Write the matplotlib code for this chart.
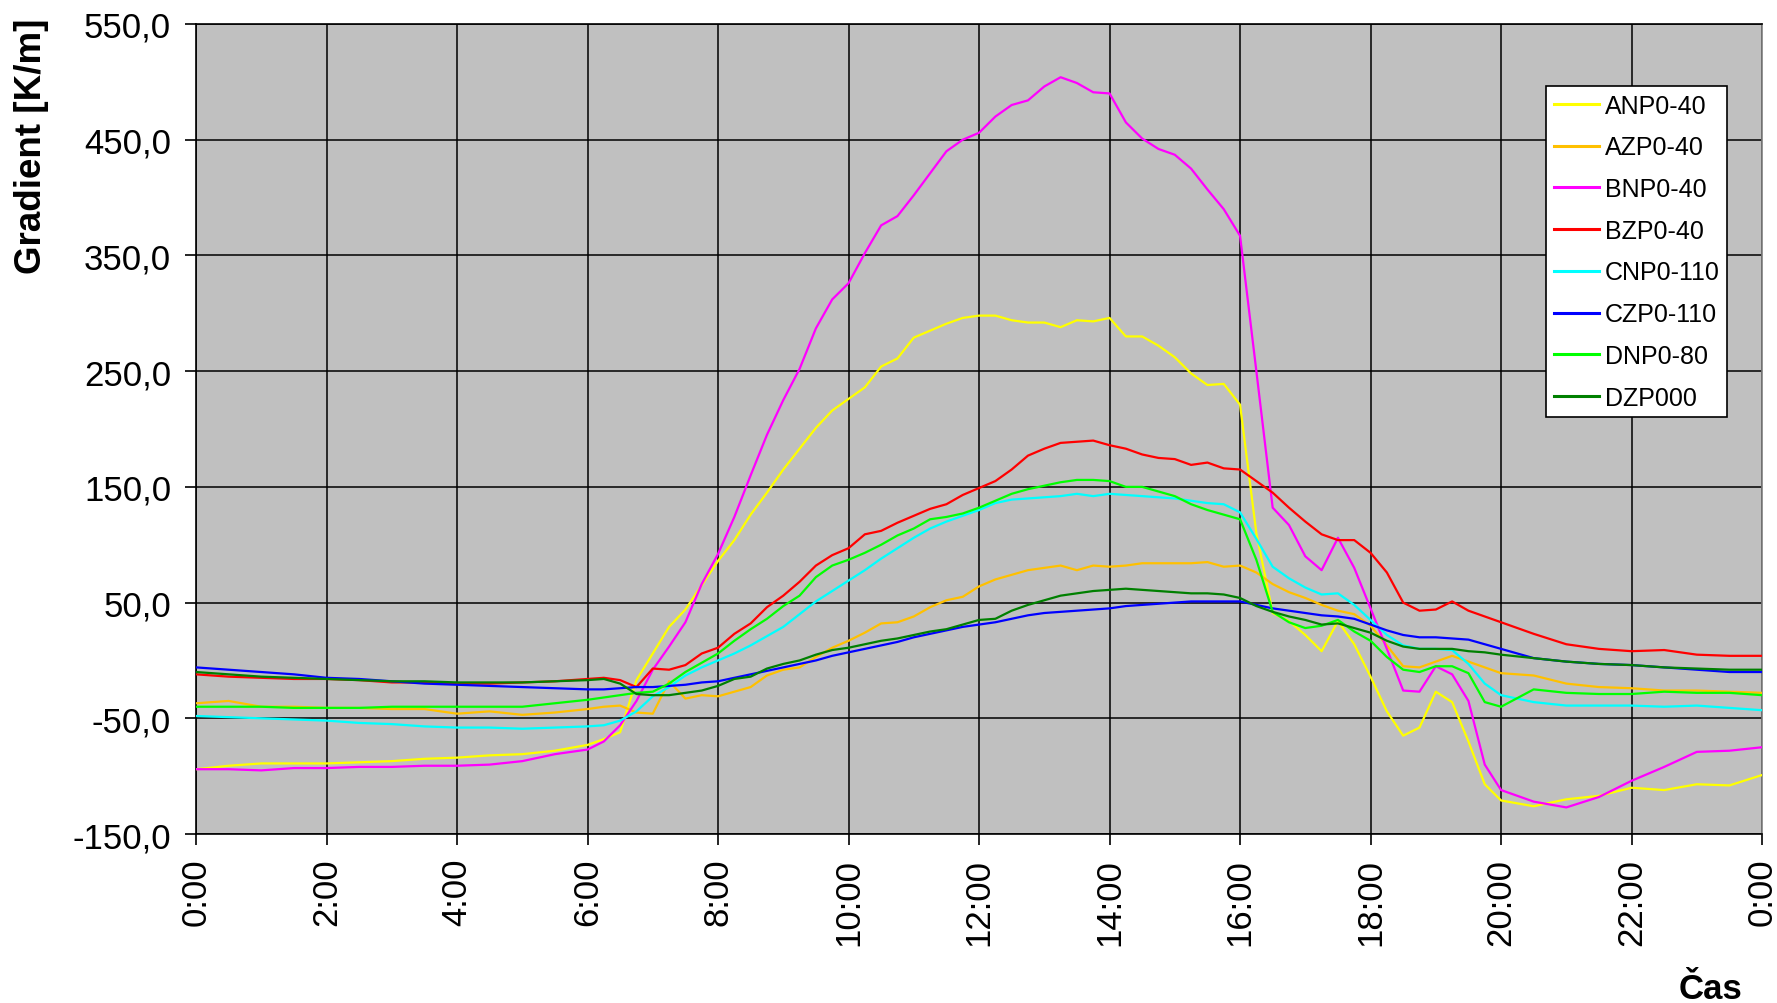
import matplotlib
matplotlib.use("Agg")
import matplotlib.pyplot as plt
import numpy as np

plt.rcParams['font.family'] = ['Liberation Sans', 'DejaVu Sans']

# time of day in hours
hours = [0, 0.5, 1, 1.5, 2, 2.5, 3, 3.5, 4, 4.5, 5, 5.5, 6,
         6.25, 6.5, 6.75, 7, 7.25, 7.5, 7.75, 8, 8.25, 8.5, 8.75, 9, 9.25, 9.5, 9.75,
         10, 10.25, 10.5, 10.75, 11, 11.25, 11.5, 11.75, 12, 12.25, 12.5, 12.75,
         13, 13.25, 13.5, 13.75, 14, 14.25, 14.5, 14.75, 15, 15.25, 15.5, 15.75,
         16, 16.25, 16.5, 16.75, 17, 17.25, 17.5, 17.75, 18, 18.25, 18.5, 18.75,
         19, 19.25, 19.5, 19.75, 20,
         20.5, 21, 21.5, 22, 22.5, 23, 23.5, 24]

anp = [-94, -91, -89, -89, -89, -88, -87, -85, -84, -82, -81, -78, -73,
       -68, -62, -17, 6, 29, 44, 65, 86, 104, 126, 145, 165, 183, 201, 216,
       226, 236, 254, 261, 279, 285, 291, 296, 298, 298, 294, 292,
       292, 288, 294, 293, 296, 280, 280, 272, 262, 248, 238, 239,
       221, 110, 41, 34, 22, 8, 34, 14, -14, -44, -65, -58,
       -27, -36, -70, -107, -121,
       -126, -120, -117, -110, -112, -107, -108, -99]

azp = [-37, -35, -40, -40, -41, -41, -42, -42, -46, -44, -47, -45, -42,
       -40, -39, -45, -46, -18, -33, -30, -31, -27, -23, -13, -8, -6, 3, 11,
       17, 24, 32, 33, 38, 46, 52, 55, 64, 70, 74, 78,
       80, 82, 78, 82, 81, 82, 84, 84, 84, 84, 85, 81,
       82, 76, 66, 59, 54, 48, 43, 40, 30, 13, -5, -6,
       -1, 4, -1, -6, -11,
       -13, -20, -23, -24, -26, -26, -27, -28]

bnp = [-94, -94, -95, -93, -93, -92, -92, -91, -91, -90, -87, -81, -77,
       -70, -56, -35, -8, 12, 33, 66, 92, 124, 160, 195, 225, 252, 287, 312,
       326, 352, 376, 384, 402, 421, 440, 450, 456, 470, 480, 484,
       496, 504, 499, 491, 490, 465, 451, 442, 437, 425, 407, 390,
       367, 250, 132, 117, 90, 78, 106, 80, 45, 10, -26, -27,
       -5, -12, -35, -90, -112,
       -122, -127, -118, -104, -92, -79, -78, -75]

bzp = [-12, -14, -15, -16, -16, -17, -19, -19, -20, -20, -19, -18, -16,
       -15, -17, -23, -7, -8, -4, 6, 11, 23, 32, 46, 56, 68, 82, 91,
       97, 109, 112, 119, 125, 131, 135, 143, 149, 155, 165, 177,
       183, 188, 189, 190, 186, 183, 178, 175, 174, 169, 171, 166,
       165, 155, 145, 132, 120, 109, 104, 104, 93, 76, 50, 43,
       44, 51, 43, 38, 33,
       23, 14, 10, 8, 9, 5, 4, 4]

cnp = [-48, -49, -50, -51, -52, -54, -55, -57, -58, -58, -59, -58, -57,
       -56, -52, -44, -31, -23, -13, -6, 0, 6, 13, 21, 29, 40, 51, 60,
       69, 78, 88, 97, 106, 114, 120, 125, 130, 136, 139, 140,
       141, 142, 144, 142, 144, 143, 142, 141, 140, 138, 136, 135,
       128, 105, 81, 71, 63, 57, 58, 48, 35, 22, 13, 10,
       10, 9, -3, -20, -30,
       -36, -39, -39, -39, -40, -39, -41, -43]

czp = [-6, -8, -10, -12, -15, -16, -18, -20, -21, -22, -23, -24, -25,
       -25, -24, -23, -23, -22, -21, -19, -18, -15, -12, -9, -6, -3, 0, 4,
       7, 10, 13, 16, 20, 23, 26, 29, 31, 33, 36, 39,
       41, 42, 43, 44, 45, 47, 48, 49, 50, 51, 51, 51,
       51, 48, 45, 43, 41, 39, 38, 36, 31, 26, 22, 20,
       20, 19, 18, 14, 10,
       2, -1, -3, -4, -6, -8, -10, -10]

dnp = [-40, -40, -40, -41, -41, -41, -40, -40, -40, -40, -40, -37, -34,
       -32, -30, -28, -27, -20, -10, -2, 6, 17, 27, 36, 47, 56, 72, 82,
       87, 93, 100, 108, 114, 122, 124, 127, 132, 138, 144, 148,
       151, 154, 156, 156, 155, 150, 150, 146, 142, 135, 130, 126,
       122, 87, 42, 33, 28, 30, 35, 25, 17, 3, -8, -10,
       -5, -5, -11, -36, -40,
       -25, -28, -29, -29, -27, -28, -28, -30]

dzp = [-10, -12, -14, -15, -16, -17, -18, -18, -19, -19, -19, -18, -17,
       -16, -20, -29, -30, -30, -28, -26, -22, -16, -14, -7, -3, 0, 5, 9,
       11, 14, 17, 19, 22, 25, 27, 31, 35, 36, 43, 48,
       52, 56, 58, 60, 61, 62, 61, 60, 59, 58, 58, 57,
       54, 47, 42, 38, 35, 31, 32, 28, 24, 17, 12, 10,
       10, 10, 8, 7, 5,
       2, -1, -3, -4, -6, -7, -8, -8]

series = [anp, azp, bnp, bzp, cnp, czp, dnp, dzp]
labels = ['ANP0-40', 'AZP0-40', 'BNP0-40', 'BZP0-40', 'CNP0-110', 'CZP0-110', 'DNP0-80', 'DZP000']
colors = ['#ffff00', '#ffc000', '#ff00ff', '#ff0000', '#00ffff', '#0000ff', '#00ff00', '#008000']

yticks = [-150, -50, 50, 150, 250, 350, 450, 550]
xticks = list(range(0, 25, 2))
xlabels = ['%d:00' % (h % 24) for h in xticks]

fig = plt.figure(figsize=(17.77, 10.04), dpi=100)
ax = fig.add_axes([0.1103, 0.1683, 0.8813, 0.8068])
ax.set_facecolor('#c0c0c0')

for i, vals in enumerate(series):
    ax.plot(hours, vals, color=colors[i], linewidth=1.6, label=labels[i], zorder=3 + i)

ax.set_xlim(0, 24)
ax.set_ylim(-150, 550)
ax.set_xticks(xticks)
ax.set_xticklabels(xlabels, rotation=90, fontsize=25)
ax.set_yticks(yticks)
ax.set_yticklabels([('%.1f' % v).replace('.', ',') for v in yticks], fontsize=25)
ax.tick_params(axis='both', direction='out', length=8, width=1.2, color='black')
ax.tick_params(axis='x', pad=9)
ax.tick_params(axis='y', pad=10)
ax.grid(True, color='black', linewidth=1.1)
ax.set_axisbelow(True)

for side in ['left', 'bottom', 'top']:
    ax.spines[side].set_color('black')
    ax.spines[side].set_linewidth(1.2)
ax.spines['right'].set_color('#808080')
ax.spines['right'].set_linewidth(1.2)

fig.text(32 / 1777, 1 - 18 / 1004, 'Gradient [K/m]', rotation=90, ha='center', va='top',
         fontsize=26.5, fontweight='bold')
fig.text(1742 / 1777, 1 - 990 / 1004, 'Čas', ha='right', va='center',
         fontsize=25, fontweight='bold')

leg = ax.legend(loc='upper left', bbox_to_anchor=(1546 / 1777, 1 - 87 / 1004),
                bbox_transform=fig.transFigure, fontsize=18, frameon=True, fancybox=False,
                framealpha=1, edgecolor='black', facecolor='white',
                handlelength=1.8, handletextpad=0.25, labelspacing=0.71, borderpad=0.3,
                borderaxespad=0)
leg.get_frame().set_linewidth(1.2)
for line in leg.get_lines():
    line.set_linewidth(2.2)
leg.set_zorder(20)

fig.savefig('out.png', dpi=100)
